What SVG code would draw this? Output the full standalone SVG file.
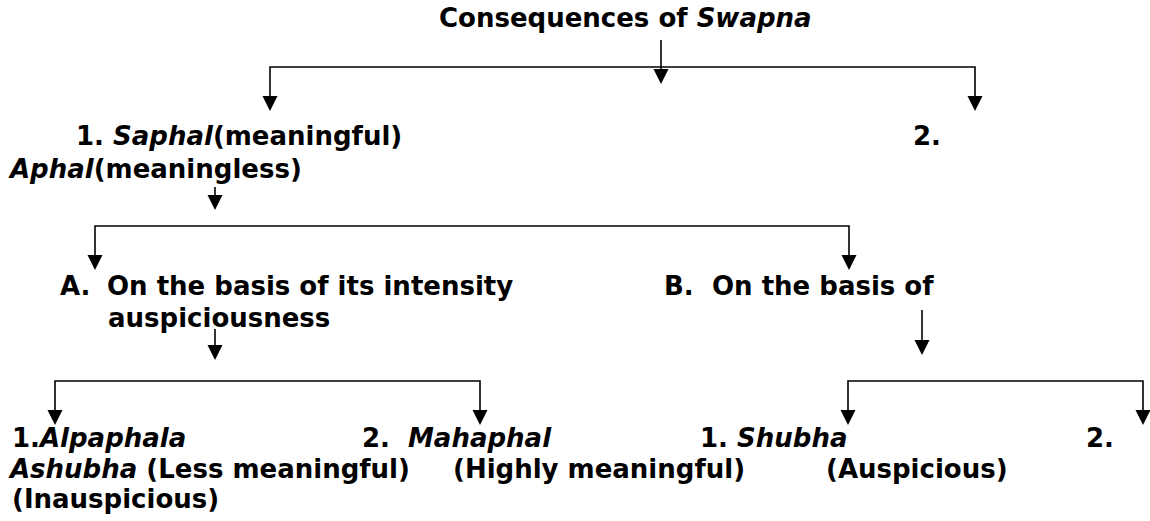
<svg xmlns="http://www.w3.org/2000/svg" width="1150" height="521" viewBox="0 0 1150 521">
<style>
text{font-family:"DejaVu Sans","Verdana",sans-serif;font-weight:bold;font-size:26px;fill:#000}
.i{font-style:italic}
.c{fill:none;stroke:#000;stroke-width:1.6}
</style>
<defs>
<marker id="ah" markerUnits="userSpaceOnUse" markerWidth="16" markerHeight="16" refX="12" refY="7.5" orient="auto-start-reverse">
<path d="M0,0 L15,7.5 L0,15 Z" fill="#000"/>
</marker>
</defs>
<rect width="1150" height="521" fill="#fff"/>
<g id="connectors">
<path class="c" d="M661,40 V81" marker-end="url(#ah)"/>
<path class="c" d="M270,108 V67 H975 V108" marker-start="url(#ah)" marker-end="url(#ah)"/>
<path class="c" d="M215,187 V207" marker-end="url(#ah)"/>
<path class="c" d="M95,267 V226 H849 V267" marker-start="url(#ah)" marker-end="url(#ah)"/>
<path class="c" d="M215,329 V357" marker-end="url(#ah)"/>
<path class="c" d="M55,422 V381 H480 V422" marker-start="url(#ah)" marker-end="url(#ah)"/>
<path class="c" d="M922,310 V352" marker-end="url(#ah)"/>
<path class="c" d="M848,422 V381 H1143 V422" marker-start="url(#ah)" marker-end="url(#ah)"/>
</g>
<g id="n-root"><text x="439" y="27">Consequences of <tspan class="i">Swapna</tspan></text></g>
<g id="n-saphal"><text x="76" y="145">1. <tspan class="i">Saphal</tspan>(meaningful)</text></g>
<g id="n-aphal"><text x="913" y="145">2.</text><text x="10" y="178"><tspan class="i">Aphal</tspan>(meaningless)</text></g>
<g id="n-a"><text x="60" y="295">A.</text><text x="107" y="295">On the basis of its intensity</text></g>
<g id="n-b"><text x="664" y="295">B.</text><text x="712" y="295">On the basis of</text><text x="108" y="327">auspiciousness</text></g>
<g id="n-alpaphala"><text x="12" y="447">1.<tspan class="i">Alpaphala</tspan></text></g>
<g id="n-mahaphal"><text x="362" y="447">2.</text><text x="408" y="447" class="i">Mahaphal</text><text x="453" y="478">(Highly meaningful)</text></g>
<g id="n-shubha"><text x="700" y="447">1. <tspan class="i">Shubha</tspan></text><text x="826" y="478">(Auspicious)</text></g>
<g id="n-ashubha"><text x="1086" y="447">2.</text><text x="10" y="478"><tspan class="i">Ashubha</tspan> (Less meaningful)</text><text x="12" y="508">(Inauspicious)</text></g>
</svg>
